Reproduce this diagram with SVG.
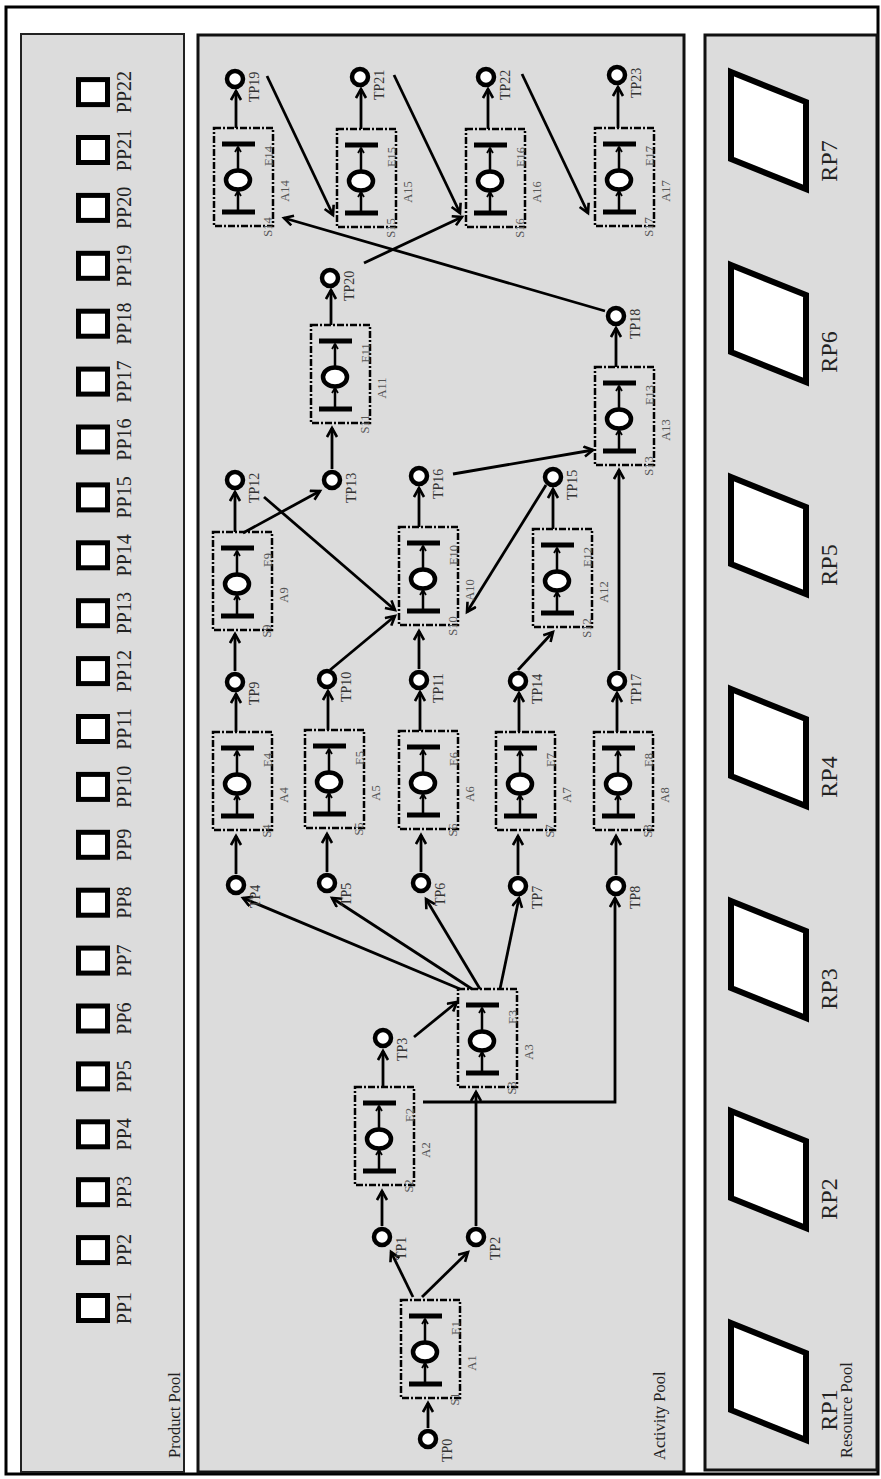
<svg xmlns="http://www.w3.org/2000/svg" xmlns:xlink="http://www.w3.org/1999/xlink" width="881" height="1479" viewBox="0 0 881 1479">
<style>
.panel{fill:#dcdcdc;stroke:#111;stroke-width:3}
.pp{fill:#fff;stroke:#000;stroke-width:5}
.rp{fill:#fff;stroke:#000;stroke-width:6;stroke-linejoin:miter}
.big{font-family:"Liberation Serif",serif;font-size:20px;fill:#222}
.rpl{font-family:"Liberation Serif",serif;font-size:24px;fill:#222}
.pool{font-family:"Liberation Serif",serif;font-size:16.5px;fill:#222}
.tpl{font-family:"Liberation Serif",serif;font-size:14px;fill:#333}
.nl{font-family:"Liberation Serif",serif;font-size:12.5px;fill:#555;text-anchor:middle}
.tp{fill:#fff;stroke:#000;stroke-width:4.5}
.box{fill:none;stroke:#000;stroke-width:2.5;stroke-dasharray:7 2 2 2}
.bar{stroke:#000;stroke-width:5}
.inner{stroke:#000;stroke-width:2.5;fill:none}
.conn{fill:none;stroke:#000;stroke-width:2.8;marker-end:url(#ah)}
</style>
<defs>
<marker id="ah" markerUnits="userSpaceOnUse" markerWidth="14" markerHeight="14" refX="10" refY="6" orient="auto">
<path d="M1,1 L10,6 L1,11" fill="none" stroke="#000" stroke-width="2.6"/>
</marker>
<marker id="sh" markerUnits="userSpaceOnUse" markerWidth="8" markerHeight="8" refX="6" refY="4" orient="auto">
<path d="M1,1 L6,4 L1,7" fill="none" stroke="#000" stroke-width="1.8"/>
</marker>
<g id="act">
<rect class="box" x="0" y="0" width="59" height="98"/>
<line class="inner" x1="24" y1="82" x2="24" y2="63" marker-end="url(#sh)"/>
<line class="inner" x1="24" y1="42" x2="24" y2="19" marker-end="url(#sh)"/>
<line class="bar" x1="8" y1="16" x2="41" y2="16"/>
<line class="bar" x1="8" y1="84" x2="41" y2="84"/>
<ellipse cx="24" cy="52" rx="12" ry="9.5" fill="#fff" stroke="#000" stroke-width="4.5"/>
</g>
<path id="para" d="M731,3 L806,33 L806,120 L731,90 Z"/>
</defs>

<rect x="6" y="7" width="872" height="1467" fill="#fff" stroke="#000" stroke-width="3"/>

<g id="product-pool">
<rect x="21" y="34" width="163" height="1438" fill="#dcdcdc" stroke="#222" stroke-width="2"/>
<text class="pool" transform="translate(180,1458) rotate(-90)">Product Pool</text>
</g>
<g id="activity-pool-panel">
<rect class="panel" x="198" y="35" width="486" height="1437"/>
<text class="pool" transform="translate(665,1460) rotate(-90)">Activity Pool</text>
</g>
<g id="resource-pool">
<rect class="panel" x="705" y="35" width="172" height="1435"/>
<text class="pool" transform="translate(852,1458) rotate(-90)">Resource Pool</text>
</g>

<g id="PP1"><rect class="pp" x="78.5" y="1295.5" width="29" height="25"/><text class="big" text-anchor="middle" transform="translate(131,1308) rotate(-90)">PP1</text></g>
<g id="PP2"><rect class="pp" x="78.5" y="1237.6" width="29" height="25"/><text class="big" text-anchor="middle" transform="translate(131,1250.1) rotate(-90)">PP2</text></g>
<g id="PP3"><rect class="pp" x="78.5" y="1179.7" width="29" height="25"/><text class="big" text-anchor="middle" transform="translate(131,1192.2) rotate(-90)">PP3</text></g>
<g id="PP4"><rect class="pp" x="78.5" y="1121.8" width="29" height="25"/><text class="big" text-anchor="middle" transform="translate(131,1134.3) rotate(-90)">PP4</text></g>
<g id="PP5"><rect class="pp" x="78.5" y="1063.9" width="29" height="25"/><text class="big" text-anchor="middle" transform="translate(131,1076.4) rotate(-90)">PP5</text></g>
<g id="PP6"><rect class="pp" x="78.5" y="1006" width="29" height="25"/><text class="big" text-anchor="middle" transform="translate(131,1018.5) rotate(-90)">PP6</text></g>
<g id="PP7"><rect class="pp" x="78.5" y="948.1" width="29" height="25"/><text class="big" text-anchor="middle" transform="translate(131,960.6) rotate(-90)">PP7</text></g>
<g id="PP8"><rect class="pp" x="78.5" y="890.2" width="29" height="25"/><text class="big" text-anchor="middle" transform="translate(131,902.7) rotate(-90)">PP8</text></g>
<g id="PP9"><rect class="pp" x="78.5" y="832.3" width="29" height="25"/><text class="big" text-anchor="middle" transform="translate(131,844.8) rotate(-90)">PP9</text></g>
<g id="PP10"><rect class="pp" x="78.5" y="774.4" width="29" height="25"/><text class="big" text-anchor="middle" transform="translate(131,786.9) rotate(-90)">PP10</text></g>
<g id="PP11"><rect class="pp" x="78.5" y="716.5" width="29" height="25"/><text class="big" text-anchor="middle" transform="translate(131,729) rotate(-90)">PP11</text></g>
<g id="PP12"><rect class="pp" x="78.5" y="658.6" width="29" height="25"/><text class="big" text-anchor="middle" transform="translate(131,671.1) rotate(-90)">PP12</text></g>
<g id="PP13"><rect class="pp" x="78.5" y="600.7" width="29" height="25"/><text class="big" text-anchor="middle" transform="translate(131,613.2) rotate(-90)">PP13</text></g>
<g id="PP14"><rect class="pp" x="78.5" y="542.8" width="29" height="25"/><text class="big" text-anchor="middle" transform="translate(131,555.3) rotate(-90)">PP14</text></g>
<g id="PP15"><rect class="pp" x="78.5" y="484.9" width="29" height="25"/><text class="big" text-anchor="middle" transform="translate(131,497.4) rotate(-90)">PP15</text></g>
<g id="PP16"><rect class="pp" x="78.5" y="427" width="29" height="25"/><text class="big" text-anchor="middle" transform="translate(131,439.5) rotate(-90)">PP16</text></g>
<g id="PP17"><rect class="pp" x="78.5" y="369.1" width="29" height="25"/><text class="big" text-anchor="middle" transform="translate(131,381.6) rotate(-90)">PP17</text></g>
<g id="PP18"><rect class="pp" x="78.5" y="311.2" width="29" height="25"/><text class="big" text-anchor="middle" transform="translate(131,323.7) rotate(-90)">PP18</text></g>
<g id="PP19"><rect class="pp" x="78.5" y="253.3" width="29" height="25"/><text class="big" text-anchor="middle" transform="translate(131,265.8) rotate(-90)">PP19</text></g>
<g id="PP20"><rect class="pp" x="78.5" y="195.4" width="29" height="25"/><text class="big" text-anchor="middle" transform="translate(131,207.9) rotate(-90)">PP20</text></g>
<g id="PP21"><rect class="pp" x="78.5" y="137.5" width="29" height="25"/><text class="big" text-anchor="middle" transform="translate(131,150) rotate(-90)">PP21</text></g>
<g id="PP22"><rect class="pp" x="78.5" y="79.6" width="29" height="25"/><text class="big" text-anchor="middle" transform="translate(131,92.1) rotate(-90)">PP22</text></g>

<g id="RP1"><use xlink:href="#para" href="#para" class="rp" transform="translate(0,1320)"/><text class="rpl" text-anchor="middle" transform="translate(837,1410) rotate(-90)">RP1</text></g>
<g id="RP2"><use xlink:href="#para" href="#para" class="rp" transform="translate(0,1108)"/><text class="rpl" text-anchor="middle" transform="translate(837,1199) rotate(-90)">RP2</text></g>
<g id="RP3"><use xlink:href="#para" href="#para" class="rp" transform="translate(0,898)"/><text class="rpl" text-anchor="middle" transform="translate(837,989) rotate(-90)">RP3</text></g>
<g id="RP4"><use xlink:href="#para" href="#para" class="rp" transform="translate(0,686)"/><text class="rpl" text-anchor="middle" transform="translate(837,777) rotate(-90)">RP4</text></g>
<g id="RP5"><use xlink:href="#para" href="#para" class="rp" transform="translate(0,474)"/><text class="rpl" text-anchor="middle" transform="translate(837,565) rotate(-90)">RP5</text></g>
<g id="RP6"><use xlink:href="#para" href="#para" class="rp" transform="translate(0,262)"/><text class="rpl" text-anchor="middle" transform="translate(837,352) rotate(-90)">RP6</text></g>
<g id="RP7"><use xlink:href="#para" href="#para" class="rp" transform="translate(0,69)"/><text class="rpl" text-anchor="middle" transform="translate(837,161) rotate(-90)">RP7</text></g>

<g id="connectors">
<path class="conn" d="M428,1428 L428,1403"/>
<path class="conn" d="M413,1297 L391,1252"/>
<path class="conn" d="M422,1297 L468,1252"/>
<path class="conn" d="M382,1226 L382,1191"/>
<path class="conn" d="M476,1226 L476,1092"/>
<path class="conn" d="M383,1087 L383,1051"/>
<path class="conn" d="M423,1102 L615,1102 L615,898"/>
<path class="conn" d="M414,1037 L457,1002"/>
<path class="conn" d="M460,989 L243,898"/>
<path class="conn" d="M472,989 L332,898"/>
<path class="conn" d="M480,989 L426,899"/>
<path class="conn" d="M500,989 L519,898"/>
<path class="conn" d="M236,874 L236,836"/>
<path class="conn" d="M327,872 L327,834"/>
<path class="conn" d="M421,872 L421,835"/>
<path class="conn" d="M518,875 L518,836"/>
<path class="conn" d="M616,875 L616,836"/>
<path class="conn" d="M236,732 L236,694"/>
<path class="conn" d="M328,730 L328,691"/>
<path class="conn" d="M420,731 L420,692"/>
<path class="conn" d="M519,732 L519,693"/>
<path class="conn" d="M617,732 L617,693"/>
<path class="conn" d="M235,671 L235,634"/>
<path class="conn" d="M330,670 L395,616"/>
<path class="conn" d="M419,669 L419,631"/>
<path class="conn" d="M518,670 L553,632"/>
<path class="conn" d="M619,670 L619,470"/>
<path class="conn" d="M235,532 L235,492"/>
<path class="conn" d="M243,533 L320,491"/>
<path class="conn" d="M264,497 L395,610"/>
<path class="conn" d="M419,527 L419,488"/>
<path class="conn" d="M546,485 L467,612"/>
<path class="conn" d="M553,529 L553,489"/>
<path class="conn" d="M453,474 L593,450"/>
<path class="conn" d="M332,469 L332,428"/>
<path class="conn" d="M331,325 L331,290"/>
<path class="conn" d="M616,367 L616,328"/>
<path class="conn" d="M605,311 L284,218"/>
<path class="conn" d="M364,263 L462,217"/>
<path class="conn" d="M267,76 L333,215"/>
<path class="conn" d="M394,75 L460,213"/>
<path class="conn" d="M522,74 L588,213"/>
<path class="conn" d="M236,128 L236,91"/>
<path class="conn" d="M361,129 L361,89"/>
<path class="conn" d="M488,129 L488,89"/>
<path class="conn" d="M618,128 L618,87"/>
</g>

<g id="A1" transform="translate(401,1300)"><use xlink:href="#act" href="#act"/><text class="nl" transform="translate(59,28) rotate(-90)">E1</text><text class="nl" transform="translate(75,63) rotate(-90)">A1</text><text class="nl" transform="translate(58,99) rotate(-90)">S1</text></g>
<g id="A2" transform="translate(355,1087)"><use xlink:href="#act" href="#act"/><text class="nl" transform="translate(59,28) rotate(-90)">E2</text><text class="nl" transform="translate(75,63) rotate(-90)">A2</text><text class="nl" transform="translate(58,99) rotate(-90)">S2</text></g>
<g id="A3" transform="translate(458,989)"><use xlink:href="#act" href="#act"/><text class="nl" transform="translate(59,28) rotate(-90)">E3</text><text class="nl" transform="translate(75,63) rotate(-90)">A3</text><text class="nl" transform="translate(58,99) rotate(-90)">S3</text></g>
<g id="A4" transform="translate(213,732)"><use xlink:href="#act" href="#act"/><text class="nl" transform="translate(59,28) rotate(-90)">E4</text><text class="nl" transform="translate(75,63) rotate(-90)">A4</text><text class="nl" transform="translate(58,99) rotate(-90)">S4</text></g>
<g id="A5" transform="translate(305,730)"><use xlink:href="#act" href="#act"/><text class="nl" transform="translate(59,28) rotate(-90)">E5</text><text class="nl" transform="translate(75,63) rotate(-90)">A5</text><text class="nl" transform="translate(58,99) rotate(-90)">S5</text></g>
<g id="A6" transform="translate(399,731)"><use xlink:href="#act" href="#act"/><text class="nl" transform="translate(59,28) rotate(-90)">E6</text><text class="nl" transform="translate(75,63) rotate(-90)">A6</text><text class="nl" transform="translate(58,99) rotate(-90)">S6</text></g>
<g id="A7" transform="translate(496,732)"><use xlink:href="#act" href="#act"/><text class="nl" transform="translate(59,28) rotate(-90)">E7</text><text class="nl" transform="translate(75,63) rotate(-90)">A7</text><text class="nl" transform="translate(58,99) rotate(-90)">S7</text></g>
<g id="A8" transform="translate(594,732)"><use xlink:href="#act" href="#act"/><text class="nl" transform="translate(59,28) rotate(-90)">E8</text><text class="nl" transform="translate(75,63) rotate(-90)">A8</text><text class="nl" transform="translate(58,99) rotate(-90)">S8</text></g>
<g id="A9" transform="translate(213,532)"><use xlink:href="#act" href="#act"/><text class="nl" transform="translate(59,28) rotate(-90)">E9</text><text class="nl" transform="translate(75,63) rotate(-90)">A9</text><text class="nl" transform="translate(58,99) rotate(-90)">S9</text></g>
<g id="A10" transform="translate(399,527)"><use xlink:href="#act" href="#act"/><text class="nl" transform="translate(59,28) rotate(-90)">E10</text><text class="nl" transform="translate(75,63) rotate(-90)">A10</text><text class="nl" transform="translate(58,99) rotate(-90)">S10</text></g>
<g id="A11" transform="translate(311,325)"><use xlink:href="#act" href="#act"/><text class="nl" transform="translate(59,28) rotate(-90)">E11</text><text class="nl" transform="translate(75,63) rotate(-90)">A11</text><text class="nl" transform="translate(58,99) rotate(-90)">S11</text></g>
<g id="A12" transform="translate(533,529)"><use xlink:href="#act" href="#act"/><text class="nl" transform="translate(59,28) rotate(-90)">E12</text><text class="nl" transform="translate(75,63) rotate(-90)">A12</text><text class="nl" transform="translate(58,99) rotate(-90)">S12</text></g>
<g id="A13" transform="translate(595,367)"><use xlink:href="#act" href="#act"/><text class="nl" transform="translate(59,28) rotate(-90)">E13</text><text class="nl" transform="translate(75,63) rotate(-90)">A13</text><text class="nl" transform="translate(58,99) rotate(-90)">S13</text></g>
<g id="A14" transform="translate(214,128)"><use xlink:href="#act" href="#act"/><text class="nl" transform="translate(59,28) rotate(-90)">E14</text><text class="nl" transform="translate(75,63) rotate(-90)">A14</text><text class="nl" transform="translate(58,99) rotate(-90)">S14</text></g>
<g id="A15" transform="translate(337,129)"><use xlink:href="#act" href="#act"/><text class="nl" transform="translate(59,28) rotate(-90)">E15</text><text class="nl" transform="translate(75,63) rotate(-90)">A15</text><text class="nl" transform="translate(58,99) rotate(-90)">S15</text></g>
<g id="A16" transform="translate(466,129)"><use xlink:href="#act" href="#act"/><text class="nl" transform="translate(59,28) rotate(-90)">E16</text><text class="nl" transform="translate(75,63) rotate(-90)">A16</text><text class="nl" transform="translate(58,99) rotate(-90)">S16</text></g>
<g id="A17" transform="translate(595,128)"><use xlink:href="#act" href="#act"/><text class="nl" transform="translate(59,28) rotate(-90)">E17</text><text class="nl" transform="translate(75,63) rotate(-90)">A17</text><text class="nl" transform="translate(58,99) rotate(-90)">S17</text></g>

<g id="TP0"><circle class="tp" cx="428" cy="1439" r="8"/><text class="tpl" transform="translate(452,1462) rotate(-90)">TP0</text></g>
<g id="TP1"><circle class="tp" cx="382" cy="1237" r="8"/><text class="tpl" transform="translate(406,1260) rotate(-90)">TP1</text></g>
<g id="TP2"><circle class="tp" cx="476" cy="1237" r="8"/><text class="tpl" transform="translate(500,1260) rotate(-90)">TP2</text></g>
<g id="TP3"><circle class="tp" cx="383" cy="1038" r="8"/><text class="tpl" transform="translate(407,1061) rotate(-90)">TP3</text></g>
<g id="TP4"><circle class="tp" cx="236" cy="885" r="8"/><text class="tpl" transform="translate(260,908) rotate(-90)">TP4</text></g>
<g id="TP5"><circle class="tp" cx="327" cy="883" r="8"/><text class="tpl" transform="translate(351,906) rotate(-90)">TP5</text></g>
<g id="TP6"><circle class="tp" cx="421" cy="883" r="8"/><text class="tpl" transform="translate(445,906) rotate(-90)">TP6</text></g>
<g id="TP7"><circle class="tp" cx="518" cy="886" r="8"/><text class="tpl" transform="translate(542,909) rotate(-90)">TP7</text></g>
<g id="TP8"><circle class="tp" cx="616" cy="886" r="8"/><text class="tpl" transform="translate(640,909) rotate(-90)">TP8</text></g>
<g id="TP9"><circle class="tp" cx="235" cy="682" r="8"/><text class="tpl" transform="translate(259,705) rotate(-90)">TP9</text></g>
<g id="TP10"><circle class="tp" cx="327" cy="679" r="8"/><text class="tpl" transform="translate(351,702) rotate(-90)">TP10</text></g>
<g id="TP11"><circle class="tp" cx="419" cy="680" r="8"/><text class="tpl" transform="translate(443,703) rotate(-90)">TP11</text></g>
<g id="TP12"><circle class="tp" cx="235" cy="480" r="8"/><text class="tpl" transform="translate(259,503) rotate(-90)">TP12</text></g>
<g id="TP13"><circle class="tp" cx="332" cy="480" r="8"/><text class="tpl" transform="translate(356,503) rotate(-90)">TP13</text></g>
<g id="TP14"><circle class="tp" cx="518" cy="681" r="8"/><text class="tpl" transform="translate(542,704) rotate(-90)">TP14</text></g>
<g id="TP15"><circle class="tp" cx="553" cy="477" r="8"/><text class="tpl" transform="translate(577,500) rotate(-90)">TP15</text></g>
<g id="TP16"><circle class="tp" cx="419" cy="476" r="8"/><text class="tpl" transform="translate(443,499) rotate(-90)">TP16</text></g>
<g id="TP17"><circle class="tp" cx="617" cy="681" r="8"/><text class="tpl" transform="translate(641,704) rotate(-90)">TP17</text></g>
<g id="TP18"><circle class="tp" cx="616" cy="316" r="8"/><text class="tpl" transform="translate(640,339) rotate(-90)">TP18</text></g>
<g id="TP19"><circle class="tp" cx="235" cy="79" r="8"/><text class="tpl" transform="translate(259,102) rotate(-90)">TP19</text></g>
<g id="TP20"><circle class="tp" cx="330" cy="278" r="8"/><text class="tpl" transform="translate(354,301) rotate(-90)">TP20</text></g>
<g id="TP21"><circle class="tp" cx="360" cy="77" r="8"/><text class="tpl" transform="translate(384,100) rotate(-90)">TP21</text></g>
<g id="TP22"><circle class="tp" cx="486" cy="77" r="8"/><text class="tpl" transform="translate(510,100) rotate(-90)">TP22</text></g>
<g id="TP23"><circle class="tp" cx="617" cy="75" r="8"/><text class="tpl" transform="translate(641,98) rotate(-90)">TP23</text></g>
</svg>
